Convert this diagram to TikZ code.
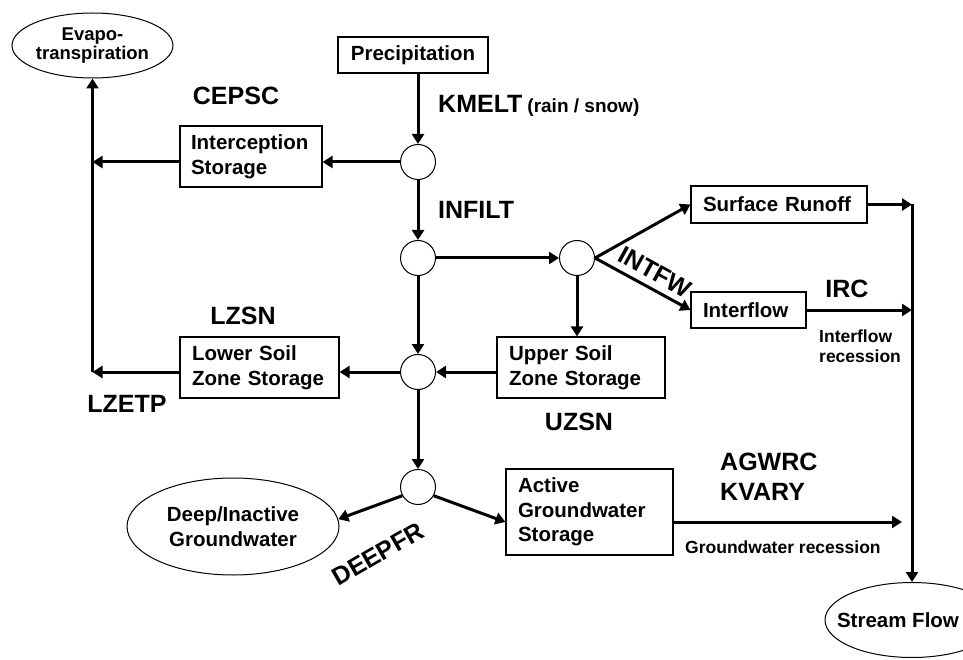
\documentclass[tikz,border=0pt]{standalone}
\usepackage{fontspec}
\setmainfont{Liberation Sans}
\usetikzlibrary{arrows.meta, shapes.geometric}
\tikzset{
	store/.style={draw, rectangle, line width=1.2pt, inner ysep=0pt, inner xsep=12pt, align=left, font=\bfseries\fontsize{20.5}{24.5}\selectfont},
	sink/.style={draw, ellipse, line width=1pt, inner sep=0pt, align=center, font=\bfseries\fontsize{20.5}{24.5}\selectfont},
	junction/.style={draw, circle, line width=1pt, inner sep=0pt, minimum size=35pt},
	% parameter names next to the flows
	param/.style={inner sep=0pt, font=\bfseries\fontsize{25}{30}\selectfont},
	note/.style={inner sep=0pt, align=left, font=\bfseries\fontsize{17.5}{19.5}\selectfont},
}

\begin{document}
\begin{tikzpicture}[x=1pt, y=-1pt]
	\useasboundingbox (0,0) rectangle (963,660);
	% storages
	\node (precip) [store, align=center, text width=126pt, minimum height=36pt] at (413,55) {Precipitation};
	\node (interc) [store, inner xsep=11pt, text width=120pt, minimum height=61pt] at (251,156.5) {Interception\\Storage};
	\node (lower) [store, text width=135pt, minimum height=61pt] at (259.5,367.5) {Lower Soil\\Zone Storage};
	\node (upper) [store, text width=144pt, minimum height=61pt] at (581,367.5) {Upper Soil\\Zone Storage};
	\node (surf) [store, text width=152pt, minimum height=37pt] at (779,204.5) {Surface Runoff};
	\node (inter) [store, text width=91pt, minimum height=36pt] at (748.5,310) {Interflow};
	\node (active) [store, text width=143pt, minimum height=86pt] at (589.5,512) {Active\\Groundwater\\Storage};
	
	% sinks
	\node (evap) [sink, font=\bfseries\fontsize{18.5}{19}\selectfont, minimum width=161pt, minimum height=65pt] at (92.5,45.5) {Evapo-\\transpiration};
	\node (deep) [sink, minimum width=212pt, minimum height=97pt] at (233,526.5) {Deep/Inactive\\Groundwater};
	\node (stream) [sink, minimum width=174pt, minimum height=75pt, label={[inner sep=0pt, xshift=-14pt, font=\bfseries\fontsize{20.5}{24.5}\selectfont]center:Stream Flow}] at (912,620) {};
	
	% junctions
	\node (c1) [junction] at (418,162) {};
	\node (c2) [junction] at (418,258) {};
	\node (c3) [junction] at (577,258) {};
	\node (c4) [junction] at (418,372) {};
	\node (c5) [junction] at (418,487) {};
	
	% parameters
	\node (cepsc) [param] at (236,96) {CEPSC};
	\node (kmelt) [param, anchor=base west] at (438,113) {KMELT\hspace{5pt}{\fontsize{19}{22}\selectfont(rain / snow)}};
	\node (infilt) [param, anchor=base west] at (438,219) {INFILT};
	\node (intfw) [param, rotate=-29] at (655,272) {INTFW};
	\node (irc) [param] at (847,289) {IRC};
	\node (lzsn) [param] at (243,315.5) {LZSN};
	\node (lzetp) [param] at (127,403.5) {LZETP};
	\node (uzsn) [param] at (579,422) {UZSN};
	\node (agwrc) [param, align=left, anchor=north west] at (720,453) {AGWRC\\KVARY};
	\node (deepfr) [param, rotate=30] at (378,554) {DEEPFR};
	\node (irec) [note, anchor=north west] at (819,330) {Interflow\\recession};
	\node (gwrec) [note, anchor=base west] at (685,553) {Groundwater recession};
	
	\coordinate (gwend) at (902,522);
	
	\begin{scope}[line width=3pt, ->, >={Triangle[length=10pt, width=12pt]}]
		\draw (c1 |- precip.south) -- (c1);
		\draw (c1) -- (c1 -| interc.east);
		\draw (c1 -| interc.west) -- (c1 -| evap.south);
		\draw (c4 -| lower.west) -- (c4 -| evap.south);
		\draw (c4 -| evap.south) -- (evap.south);
		\draw (c1) -- (c2);
		\draw (c2) -- (c3);
		\draw (c2) -- (c4);
		\draw (c3) -- (c3 |- upper.north);
		\draw (c3.east) -- (surf.west);
		\draw (c3.east) -- (inter.west);
		\draw (c4 -| upper.west) -- (c4);
		\draw (c4) -- (c4 -| lower.east);
		\draw (c4) -- (c5);
		\draw (c5.209) -- (deep.4);
		\draw (c5.331) -- ([yshift=-10pt]active.west);
		\draw (surf.east) -- (surf.east -| stream.north);
		\draw (inter.east) -- (inter.east -| stream.north);
		\draw (surf.east -| stream.north) -- (stream.north);
		\draw (active.east |- gwend) -- (gwend);
	\end{scope}
\end{tikzpicture}
\end{document}
